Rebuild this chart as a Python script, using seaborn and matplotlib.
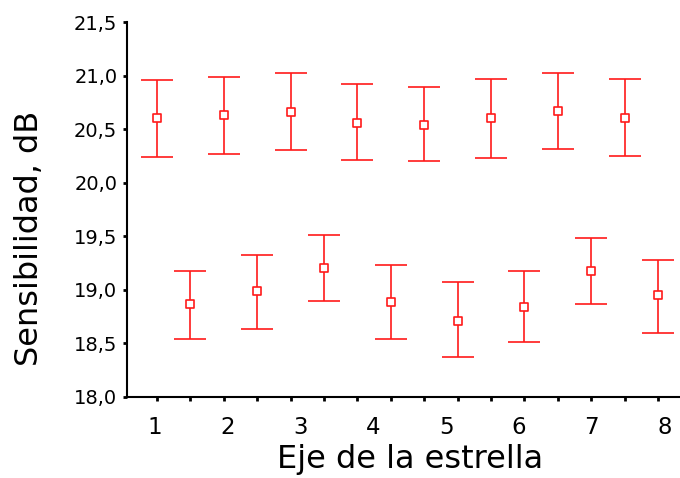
import numpy as np
import pandas as pd
import matplotlib
matplotlib.use("Agg")
import matplotlib.pyplot as plt
import seaborn as sns

# eje de la estrella 1..8, dos grupos (media e intervalo)
ejes = [1, 2, 3, 4, 5, 6, 7, 8]
alto_media = [20.60, 20.63, 20.66, 20.56, 20.54, 20.60, 20.67, 20.60]
alto_inf = [20.24, 20.27, 20.31, 20.215, 20.20, 20.23, 20.315, 20.245]
alto_sup = [20.96, 20.985, 21.02, 20.92, 20.895, 20.97, 21.025, 20.97]
bajo_media = [18.866, 18.985, 19.20, 18.89, 18.71, 18.84, 19.175, 18.95]
bajo_inf = [18.54, 18.63, 18.90, 18.54, 18.37, 18.51, 18.87, 18.60]
bajo_sup = [19.18, 19.33, 19.51, 19.23, 19.07, 19.18, 19.48, 19.28]
y_ticks = [18.0, 18.5, 19.0, 19.5, 20.0, 20.5, 21.0, 21.5]
y_labels = ["18,0", "18,5", "19,0", "19,5", "20,0", "20,5", "21,0", "21,5"]

n = len(ejes)
pos_alto = np.arange(n) * 2
pos_bajo = np.arange(n) * 2 + 1

df = pd.DataFrame({
    "pos": np.concatenate([pos_alto, pos_bajo]),
    "media": alto_media + bajo_media,
    "inf": alto_inf + bajo_inf,
    "sup": alto_sup + bajo_sup,
})

sns.set_style("ticks")
plt.rcParams['font.family'] = ['DejaVu Sans']
plt.rcParams['text.color'] = 'black'
plt.rcParams['axes.labelcolor'] = 'black'
plt.rcParams['xtick.color'] = 'black'
plt.rcParams['ytick.color'] = 'black'

fig = plt.figure(figsize=(6.8, 4.78), dpi=100)
ax = fig.add_axes([127 / 680, 1 - 397 / 478, 1 - 127 / 680, (397 - 22) / 478])

ax.errorbar(df["pos"], df["media"],
            yerr=[df["media"] - df["inf"], df["sup"] - df["media"]],
            fmt="none", ecolor="#ff1a1a", elinewidth=1.2, capsize=11.5,
            capthick=1.2, zorder=2)
sns.scatterplot(data=df, x="pos", y="media", marker="s", s=40,
                facecolor="white", edgecolor="#ff1a1a", linewidth=1.2,
                ax=ax, zorder=3, legend=False)

ax.set_xlim(-0.9, 15.66)
ax.set_ylim(18.0, 21.5)

ax.set_yticks(y_ticks)
ax.set_yticklabels(y_labels, fontsize=14)
ax.tick_params(axis="y", length=3, width=2, pad=4)

# marcas pequeñas en cada posicion, etiquetas 1..8 aparte
ax.set_xticks(np.arange(2 * n), minor=True)
ax.set_xticks(-0.06 + 2.18 * np.arange(n))
ax.set_xticklabels([str(e) for e in ejes], fontsize=16.5)
ax.tick_params(axis="x", which="major", length=0, pad=14)
ax.tick_params(axis="x", which="minor", length=3, width=2)

ax.set_xlabel("Eje de la estrella", fontsize=23)
ax.xaxis.set_label_coords(0.512, -0.125)
ax.set_ylabel("Sensibilidad, dB", fontsize=23, va="center")
ax.yaxis.set_label_coords(-0.176, 0.424)

sns.despine(ax=ax)
for s in ["left", "bottom"]:
    ax.spines[s].set_linewidth(1.5)
    ax.spines[s].set_color("black")

fig.savefig("out.png", dpi=100)
